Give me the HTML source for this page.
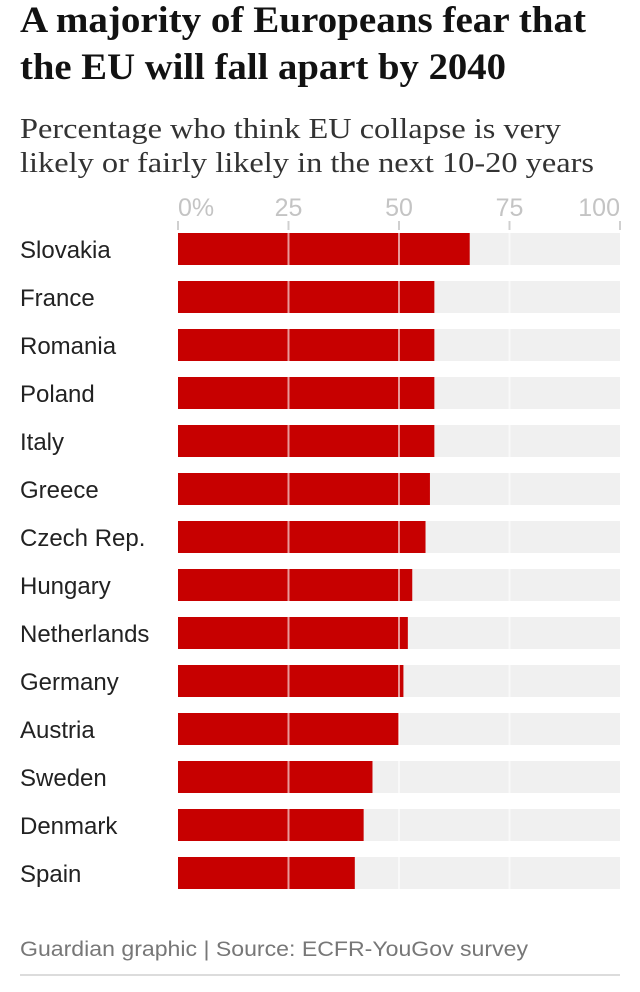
<!DOCTYPE html>
<html><head><meta charset="utf-8"><style>
html,body{margin:0;padding:0;background:#fff;}
svg{display:block;}
</style></head><body>
<svg id="chart" width="640" height="992" xmlns="http://www.w3.org/2000/svg">
<text x="20" y="32" font-family="Liberation Serif, serif" font-weight="bold" font-size="37" textLength="566" lengthAdjust="spacingAndGlyphs" fill="#121212">A majority of Europeans fear that</text>
<text x="20" y="79" font-family="Liberation Serif, serif" font-weight="bold" font-size="37" textLength="486" lengthAdjust="spacingAndGlyphs" fill="#121212">the EU will fall apart by 2040</text>
<text x="20" y="138" font-family="Liberation Serif, serif" font-size="28" textLength="541" lengthAdjust="spacingAndGlyphs" fill="#333">Percentage who think EU collapse is very</text>
<text x="20" y="172" font-family="Liberation Serif, serif" font-size="28" textLength="574" lengthAdjust="spacingAndGlyphs" fill="#333">likely or fairly likely in the next 10-20 years</text>
<g id="axis"></g>
<g id="bars"></g>
<text x="20" y="956" font-family="Liberation Sans, sans-serif" font-size="21" textLength="508" lengthAdjust="spacingAndGlyphs" fill="#777">Guardian graphic | Source: ECFR-YouGov survey</text>
<rect x="20" y="974" width="600" height="2" fill="#dcdcdc"/>
</svg>
<script>
const categories = ["Slovakia","France","Romania","Poland","Italy","Greece","Czech Rep.","Hungary","Netherlands","Germany","Austria","Sweden","Denmark","Spain"];
const values = [66,58,58,58,58,57,56,53,52,51,50,44,42,40];
const tickValues = [0,25,50,75,100];
const tickLabels = ["0%","25","50","75","100"];

const NS = "http://www.w3.org/2000/svg";
const x0 = 178, x1 = 620, barTop = 233, barH = 32, pitch = 48;
function xScale(v){ return x0 + (x1 - x0) * v / 100; }
function mk(tag, attrs, parent){ const e = document.createElementNS(NS, tag); for (const k in attrs) e.setAttribute(k, attrs[k]); parent.appendChild(e); return e; }
const axis = document.getElementById('axis');
const bars = document.getElementById('bars');

tickValues.forEach((t, i) => {
  const x = xScale(t);
  const anchor = i === 0 ? 'start' : (i === tickValues.length - 1 ? 'end' : 'middle');
  const lbl = mk('text', {x: x, y: 216, 'font-family': 'Liberation Sans, sans-serif', 'font-size': 25, fill: '#c4c4c4', 'text-anchor': anchor}, axis);
  lbl.textContent = tickLabels[i];
  
  
  const tk = mk('rect', {x: x - 1, y: 221, width: 2, height: 9, fill: '#d0d0d0'}, axis);
  
  
});

categories.forEach((c, i) => {
  const y = barTop + i * pitch;
  const lbl = mk('text', {x: 20, y: y + barH / 2 + 9, 'font-family': 'Liberation Sans, sans-serif', 'font-size': 24, fill: '#222', textLength: 0}, bars);
  lbl.removeAttribute('textLength');
  lbl.textContent = c;
  
  
  const bg = mk('rect', {x: x0, y: y, width: x1 - x0, height: barH, fill: '#f0f0f0'}, bars);
  
  
  const b = mk('rect', {x: x0, y: y, width: xScale(values[i]) - x0, height: barH, fill: '#c70000'}, bars);
  
  
  tickValues.slice(1, -1).forEach(t => {
    const g = mk('rect', {x: xScale(t) - 1, y: y, width: 2, height: barH, fill: '#ffffff', 'fill-opacity': 0.6}, bars);
    
    
  });
});
</script>
</body></html>
